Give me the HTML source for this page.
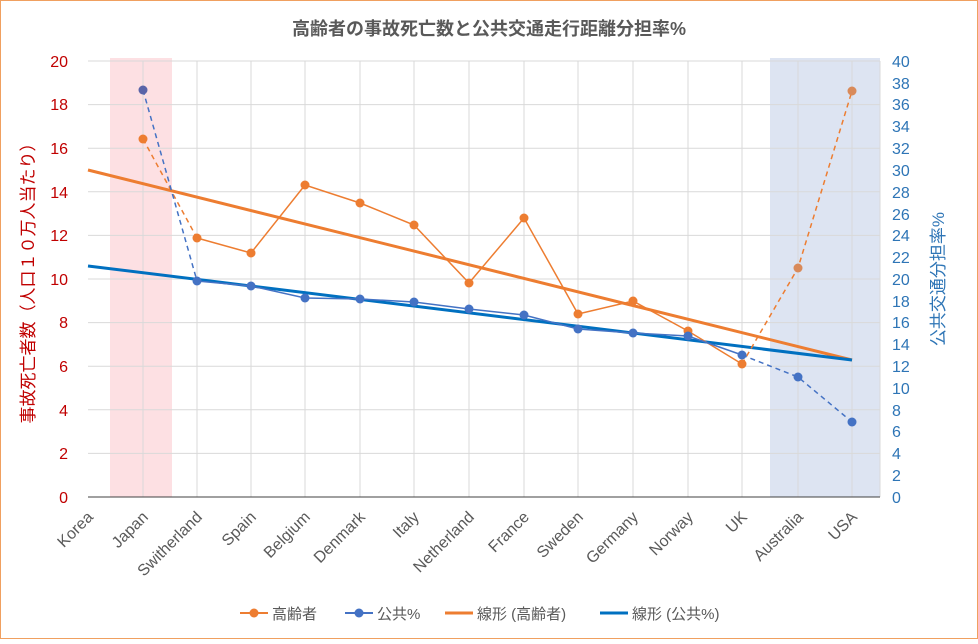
<!DOCTYPE html>
<html><head><meta charset="utf-8"><style>
body{margin:0;background:#fff;}
svg text{font-family:"Liberation Sans","Noto Sans CJK JP",sans-serif;}
</style></head><body>
<svg width="978" height="639" xmlns="http://www.w3.org/2000/svg">
<rect x="0.5" y="0.5" width="977" height="638" fill="#fff" stroke="#f0a060"/>
<text x="489" y="35" text-anchor="middle" font-size="18" font-weight="bold" fill="#595959">高齢者の事故死亡数と公共交通走行距離分担率%</text>
<rect x="110" y="58" width="62" height="439" fill="#fde0e3"/>
<rect x="770" y="58" width="110" height="439" fill="#dde4f2"/>
<g stroke="#d9d9d9" stroke-width="1">
<line x1="88" y1="61" x2="880" y2="61"/><line x1="88" y1="104.6" x2="880" y2="104.6"/><line x1="88" y1="148.2" x2="880" y2="148.2"/><line x1="88" y1="191.8" x2="880" y2="191.8"/><line x1="88" y1="235.4" x2="880" y2="235.4"/><line x1="88" y1="279" x2="880" y2="279"/><line x1="88" y1="322.6" x2="880" y2="322.6"/><line x1="88" y1="366.2" x2="880" y2="366.2"/><line x1="88" y1="409.8" x2="880" y2="409.8"/><line x1="88" y1="453.4" x2="880" y2="453.4"/>
<line x1="143" y1="61" x2="143" y2="497"/><line x1="197" y1="61" x2="197" y2="497"/><line x1="251" y1="61" x2="251" y2="497"/><line x1="305" y1="61" x2="305" y2="497"/><line x1="360" y1="61" x2="360" y2="497"/><line x1="414" y1="61" x2="414" y2="497"/><line x1="469" y1="61" x2="469" y2="497"/><line x1="524" y1="61" x2="524" y2="497"/><line x1="578" y1="61" x2="578" y2="497"/><line x1="633" y1="61" x2="633" y2="497"/><line x1="688" y1="61" x2="688" y2="497"/><line x1="742" y1="61" x2="742" y2="497"/><line x1="798" y1="61" x2="798" y2="497"/><line x1="852" y1="61" x2="852" y2="497"/><line x1="880" y1="61" x2="880" y2="497"/>
</g>
<line x1="88" y1="497" x2="880" y2="497" stroke="#404040"/>
<g font-size="16" fill="#c00000" text-anchor="end">
<text x="68" y="67">20</text><text x="68" y="110">18</text><text x="68" y="154">16</text><text x="68" y="198">14</text><text x="68" y="241">12</text><text x="68" y="285">10</text><text x="68" y="328">8</text><text x="68" y="372">6</text><text x="68" y="416">4</text><text x="68" y="459">2</text><text x="68" y="503">0</text>
</g>
<g font-size="16" fill="#2e75b6" text-anchor="start">
<text x="892" y="67">40</text><text x="892" y="89">38</text><text x="892" y="110">36</text><text x="892" y="132">34</text><text x="892" y="154">32</text><text x="892" y="176">30</text><text x="892" y="198">28</text><text x="892" y="220">26</text><text x="892" y="241">24</text><text x="892" y="263">22</text><text x="892" y="285">20</text><text x="892" y="307">18</text><text x="892" y="328">16</text><text x="892" y="350">14</text><text x="892" y="372">12</text><text x="892" y="394">10</text><text x="892" y="416">8</text><text x="892" y="437">6</text><text x="892" y="459">4</text><text x="892" y="481">2</text><text x="892" y="503">0</text>
</g>
<text transform="translate(34,279) rotate(-90)" text-anchor="middle" font-size="17" fill="#c00000">事故死亡者数（人口１０万人当たり）</text>
<text transform="translate(944,279) rotate(-90)" text-anchor="middle" font-size="17" fill="#2e75b6">公共交通分担率%</text>
<g font-size="16" fill="#595959" text-anchor="end">
<text transform="translate(94,518) rotate(-45)">Korea</text>
<text transform="translate(149,518) rotate(-45)">Japan</text>
<text transform="translate(203,518) rotate(-45)">Switherland</text>
<text transform="translate(257,518) rotate(-45)">Spain</text>
<text transform="translate(311,518) rotate(-45)">Belgium</text>
<text transform="translate(366,518) rotate(-45)">Denmark</text>
<text transform="translate(420,518) rotate(-45)">Italy</text>
<text transform="translate(475,518) rotate(-45)">Netherland</text>
<text transform="translate(530,518) rotate(-45)">France</text>
<text transform="translate(584,518) rotate(-45)">Sweden</text>
<text transform="translate(639,518) rotate(-45)">Germany</text>
<text transform="translate(694,518) rotate(-45)">Norway</text>
<text transform="translate(748,518) rotate(-45)">UK</text>
<text transform="translate(804,518) rotate(-45)">Australia</text>
<text transform="translate(858,518) rotate(-45)">USA</text>
</g>
<line x1="88" y1="170" x2="852" y2="360" stroke="#ed7d31" stroke-width="3"/>
<line x1="88" y1="266" x2="852" y2="360" stroke="#0070c0" stroke-width="3"/>
<g fill="none" stroke-width="1.5">
<polyline stroke="#ed7d31" points="197,238 251,253 305,185 360,203 414,225 469,283 524,218 578,314 633,301 688,331 742,364"/>
<polyline stroke="#4472c4" points="197,281 251,286 305,298 360,299 414,302 469,309 524,315 578,329 633,333 688,336 742,355"/>
<g stroke-dasharray="5,4">
<polyline stroke="#ed7d31" points="143,139 197,238"/>
<polyline stroke="#ed7d31" points="742,364 798,268 852,91"/>
<polyline stroke="#4472c4" points="143,90 197,281"/>
<polyline stroke="#4472c4" points="742,355 798,377 852,422"/>
</g></g>
<g fill="#ed7d31">
<circle cx="143" cy="139" r="4.5"/><circle cx="197" cy="238" r="4.5"/><circle cx="251" cy="253" r="4.5"/><circle cx="305" cy="185" r="4.5"/><circle cx="360" cy="203" r="4.5"/><circle cx="414" cy="225" r="4.5"/><circle cx="469" cy="283" r="4.5"/><circle cx="524" cy="218" r="4.5"/><circle cx="578" cy="314" r="4.5"/><circle cx="633" cy="301" r="4.5"/><circle cx="688" cy="331" r="4.5"/><circle cx="742" cy="364" r="4.5"/><circle cx="798" cy="268" r="4.5" fill="#d98a5a"/><circle cx="852" cy="91" r="4.5" fill="#d98a5a"/>
</g>
<g fill="#4472c4">
<circle cx="143" cy="90" r="4.5" fill="#5a64a8"/><circle cx="197" cy="281" r="4.5"/><circle cx="251" cy="286" r="4.5"/><circle cx="305" cy="298" r="4.5"/><circle cx="360" cy="299" r="4.5"/><circle cx="414" cy="302" r="4.5"/><circle cx="469" cy="309" r="4.5"/><circle cx="524" cy="315" r="4.5"/><circle cx="578" cy="329" r="4.5"/><circle cx="633" cy="333" r="4.5"/><circle cx="688" cy="336" r="4.5"/><circle cx="742" cy="355" r="4.5"/><circle cx="798" cy="377" r="4.5"/><circle cx="852" cy="422" r="4.5"/>
</g>
<g font-size="15" fill="#595959">
<line x1="240" y1="613" x2="268" y2="613" stroke="#ed7d31" stroke-width="2"/><circle cx="254" cy="613" r="4.5" fill="#ed7d31"/><text x="272" y="619">高齢者</text>
<line x1="345" y1="613" x2="373" y2="613" stroke="#4472c4" stroke-width="2"/><circle cx="359" cy="613" r="4.5" fill="#4472c4"/><text x="377" y="619">公共%</text>
<line x1="445" y1="613" x2="473" y2="613" stroke="#ed7d31" stroke-width="3"/><text x="477" y="619">線形 (高齢者)</text>
<line x1="600" y1="613" x2="628" y2="613" stroke="#0070c0" stroke-width="3"/><text x="632" y="619">線形 (公共%)</text>
</g>
</svg>
</body></html>
